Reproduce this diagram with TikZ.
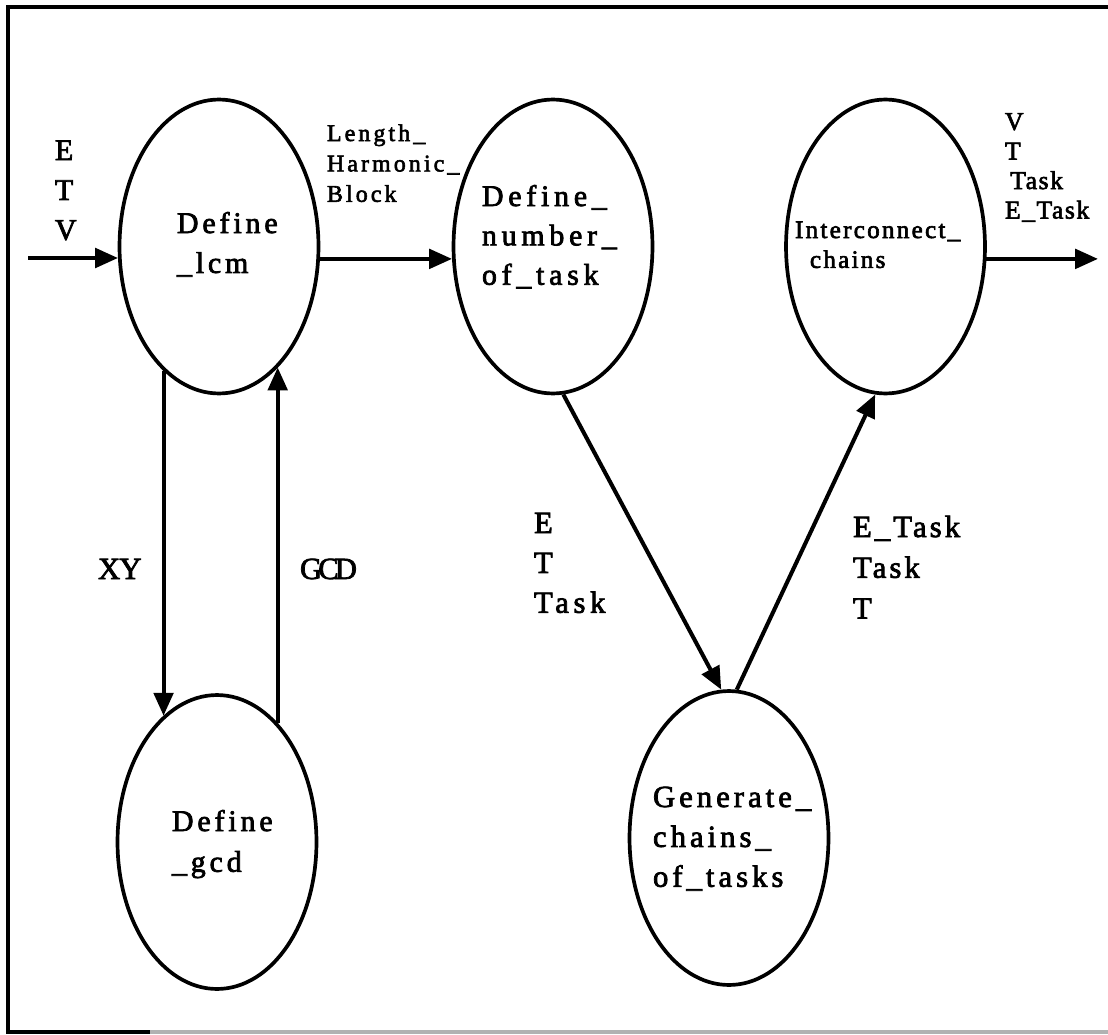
\documentclass[tikz,border=0pt]{standalone}
\usepackage{fontspec}
\setmainfont{Liberation Serif}
\usetikzlibrary{shapes.geometric,arrows.meta}

% stack of lines whose baseline is that of the first line
\newcommand\rowstack[2]{\vtop{\baselineskip=#1\relax\lineskiplimit=-\maxdimen\lineskip=0pt #2}}
% size in pt, tracking, slightly heavier strokes
\newcommand\tsize[2]{\fontsize{#1pt}{#1pt}\selectfont\addfontfeatures{LetterSpace=#2,FakeBold=2.5}}

\tikzset{
  proc/.style={draw, line width=2.1pt, ellipse, inner sep=0pt,
               minimum width=3.98cm, minimum height=5.88cm},
  flow/.style={line width=2.3pt, -{Triangle[length=13pt,width=11pt]}},
  txt/.style={inner sep=0pt, outer sep=0pt, anchor=base west},
  frameline/.style={line width=1.8pt},
}

\begin{document}
\begin{tikzpicture}[x=0.02cm, y=-0.02cm]
\useasboundingbox (0,0) rectangle (1108,1034);

% outer frame (open on the right)
\draw[frameline] (1108,7) -- (8,7) -- (8,1032) -- (150,1032);
\draw[frameline, gray!60] (150,1032) -- (1108,1032);

% processes
\node[proc] (lcm) at (219,246.5) {};
\node[proc] (num) at (553,246.5) {};
\node[proc] (icn) at (885.5,246.5) {};
\node[proc] (gcd) at (217,842) {};
\node[proc] (gen) at (729,838) {};

% process names
\node[txt, font=\tsize{17}{13}] (lcmT) at (177,233)
  {\rowstack{22.7pt}{\hbox{Define}\hbox{\_lcm}}};
\node[txt, font=\tsize{17}{16}] (numT) at (482,206)
  {\rowstack{22.4pt}{\hbox{Define\_}\hbox{number\_}\hbox{of\_task}}};
\node[txt, font=\tsize{14.3}{9}] (icnT) at (795,238)
  {\rowstack{17pt}{\hbox{Interconnect\_}\hbox{\kern8.5pt chains}}};
\node[txt, font=\tsize{17}{13}] (gcdT) at (172,831)
  {\rowstack{23.2pt}{\hbox{Define}\hbox{\_gcd}}};
\node[txt, font=\tsize{17.5}{13}] (genT) at (653,807)
  {\rowstack{22.7pt}{\hbox{Generate\_}\hbox{chains\_}\hbox{of\_tasks}}};

% data flow labels
\node[txt, font=\tsize{17}{0}] (inL) at (55,160)
  {\rowstack{22.7pt}{\hbox{E}\hbox{T}\hbox{V}}};
\node[txt, font=\tsize{13.6}{13}] (lenL) at (327,141)
  {\rowstack{17.3pt}{\hbox{Length\_}\hbox{Harmonic\_}\hbox{Block}}};
\node[txt, font=\tsize{14.6}{6}] (outL) at (1005,130)
  {\rowstack{16.8pt}{\hbox{V}\hbox{T}\hbox{\kern3pt Task}\hbox{E\_Task}}};
\node[txt, font=\tsize{17.5}{-3}] (xyL) at (98,579) {XY};
\node[txt, font=\tsize{17.5}{-13}] (gcdL) at (300,579) {GCD};
\node[txt, font=\tsize{17.5}{15}] (etL) at (534,533)
  {\rowstack{22.7pt}{\hbox{E}\hbox{T}\hbox{Task}}};
\node[txt, font=\tsize{17.5}{10}] (etaskL) at (853,537)
  {\rowstack{23.2pt}{\hbox{E\_Task}\hbox{Task}\hbox{T}}};

% connectors
\coordinate (inA) at (28,258);
\coordinate (outB) at (1098,257);
\draw[flow] (inA) -- (inA -| lcm.187);
\draw[flow] (lcm.353) -- (num.187);
\draw[flow] (icn.353) -- (icn.353 -| outB);
\draw[flow] (lcm.246) -- (lcm.246 |- gcd.113);
\draw[flow] (gcd.63) -- (gcd.63 |- lcm.296);
\draw[flow] (num.274) -- (gen.93);
\draw[flow] (gen.87) -- (icn.266);
\end{tikzpicture}
\end{document}
